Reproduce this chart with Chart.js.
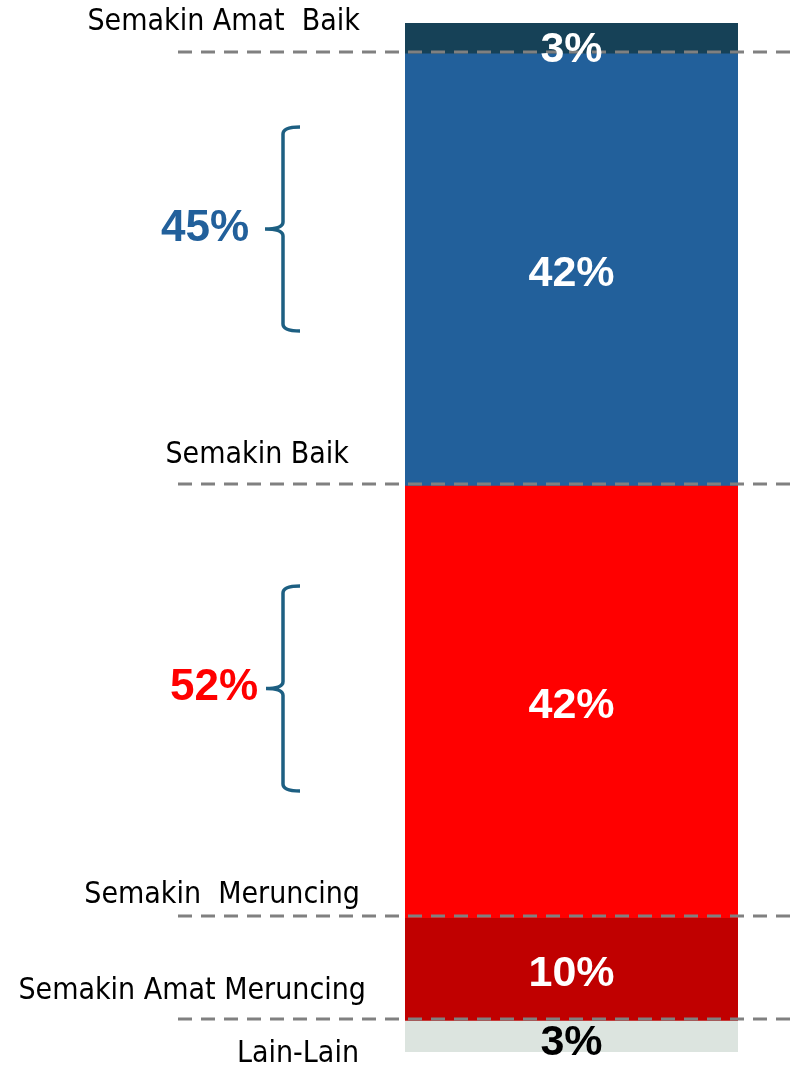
<!DOCTYPE html>
<html>
<head>
<meta charset="utf-8">
<script src="https://cdn.jsdelivr.net/npm/chart.js@4/dist/chart.umd.min.js"></script>
<style>
  html, body { margin: 0; padding: 0; background: #fff; }
  #wrap { width: 797px; height: 1069px; }
</style>
</head>
<body>
<div id="wrap"><canvas id="stackChart" width="797" height="1069"></canvas></div>
<script>
// Data (bottom to top)
const categories = ['Lain-Lain', 'Semakin Amat Meruncing', 'Semakin  Meruncing', 'Semakin Baik', 'Semakin Amat  Baik'];
const values = [3, 10, 42, 42, 3];
const colors = ['#dce4df', '#c00000', '#ff0000', '#22609b', '#164157'];
const valueColors = ['#000000', '#ffffff', '#ffffff', '#ffffff', '#ffffff'];
const groupTotals = [45, 52];
const groupColors = ['#22609b', '#ff0000'];

// Decorations: dashed dividers, category names, braces, value labels
const decorPlugin = {
    id: 'decor',
    afterDatasetsDraw(chart) {
        const ctx = chart.ctx;
        const y = chart.scales.y;
        const meta = chart.getDatasetMeta(0).data[0];
        const cx = meta.x;

        // cumulative boundaries
        const cum = [0];
        values.forEach((v, i) => cum.push(cum[i] + v));

        ctx.save();
        // dashed dividers between segments
        ctx.strokeStyle = '#808080';
        ctx.lineWidth = 3;
        ctx.setLineDash([14, 9]);
        for (let i = 1; i < cum.length - 1; i++) {
            const py = Math.round(y.getPixelForValue(cum[i])) - 2;
            ctx.beginPath();
            ctx.moveTo(178, py);
            ctx.lineTo(797, py);
            ctx.stroke();
        }
        ctx.setLineDash([]);

        // category names
        const labelPos = [
            { x: 359, y: 1054 },
            { x: 366, y: 991 },
            { x: 360, y: 895 },
            { x: 349, y: 455 },
            { x: 360, y: 22 }
        ];
        ctx.fillStyle = '#000';
        ctx.font = "30px 'DejaVu Sans Condensed', 'DejaVu Sans'";
        ctx.textAlign = 'right';
        ctx.textBaseline = 'middle';
        categories.forEach((c, i) => {
            ctx.fillText(c, labelPos[i].x, labelPos[i].y);
        });

        // braces
        function brace(top, bottom, x, tipX) {
            const mid = (top + bottom) / 2;
            ctx.beginPath();
            ctx.moveTo(x + 17, top);
            ctx.quadraticCurveTo(x, top, x, top + 7);
            ctx.lineTo(x, mid - 7);
            ctx.quadraticCurveTo(x, mid, tipX, mid);
            ctx.quadraticCurveTo(x, mid, x, mid + 7);
            ctx.lineTo(x, bottom - 7);
            ctx.quadraticCurveTo(x, bottom, x + 17, bottom);
            ctx.stroke();
        }
        ctx.strokeStyle = '#1d5f82';
        ctx.lineWidth = 3.5;
        brace(127, 331, 283, 265);
        brace(586, 791, 283, 266);

        // group totals
        ctx.textAlign = 'center';
        ctx.font = "bold 44px 'Liberation Sans', Arial";
        ctx.fillStyle = groupColors[0];
        ctx.fillText(groupTotals[0] + '%', 205, 229);
        ctx.fillStyle = groupColors[1];
        ctx.fillText(groupTotals[1] + '%', 214, 688);

        // value labels
        ctx.font = "bold 43px 'Liberation Sans', Arial";
        values.forEach((v, i) => {
            let py = y.getPixelForValue((cum[i] + cum[i + 1]) / 2);
            if (i === values.length - 1) py += 8;
            if (i === 0) py += 3;
            ctx.fillStyle = valueColors[i];
            ctx.fillText(v + '%', cx, py + 4);
        });
        ctx.restore();
    }
};

const chartCtx = document.getElementById('stackChart').getContext('2d');
new Chart(chartCtx, {
    type: 'bar',
    data: {
        labels: [''],
        datasets: categories.map((c, i) => ({
            label: c,
            data: [values[i]],
            backgroundColor: colors[i],
            borderWidth: 0,
            barPercentage: 1,
            categoryPercentage: 1
        }))
    },
    options: {
        responsive: false,
        animation: false,
        layout: {
            padding: { left: 405, right: 59, top: 23, bottom: 17 }
        },
        plugins: {
            legend: { display: false },
            tooltip: { enabled: false }
        },
        scales: {
            x: { stacked: true, display: false },
            y: { stacked: true, display: false, min: 0, max: 100 }
        }
    },
    plugins: [decorPlugin]
});
</script>
</body>
</html>
